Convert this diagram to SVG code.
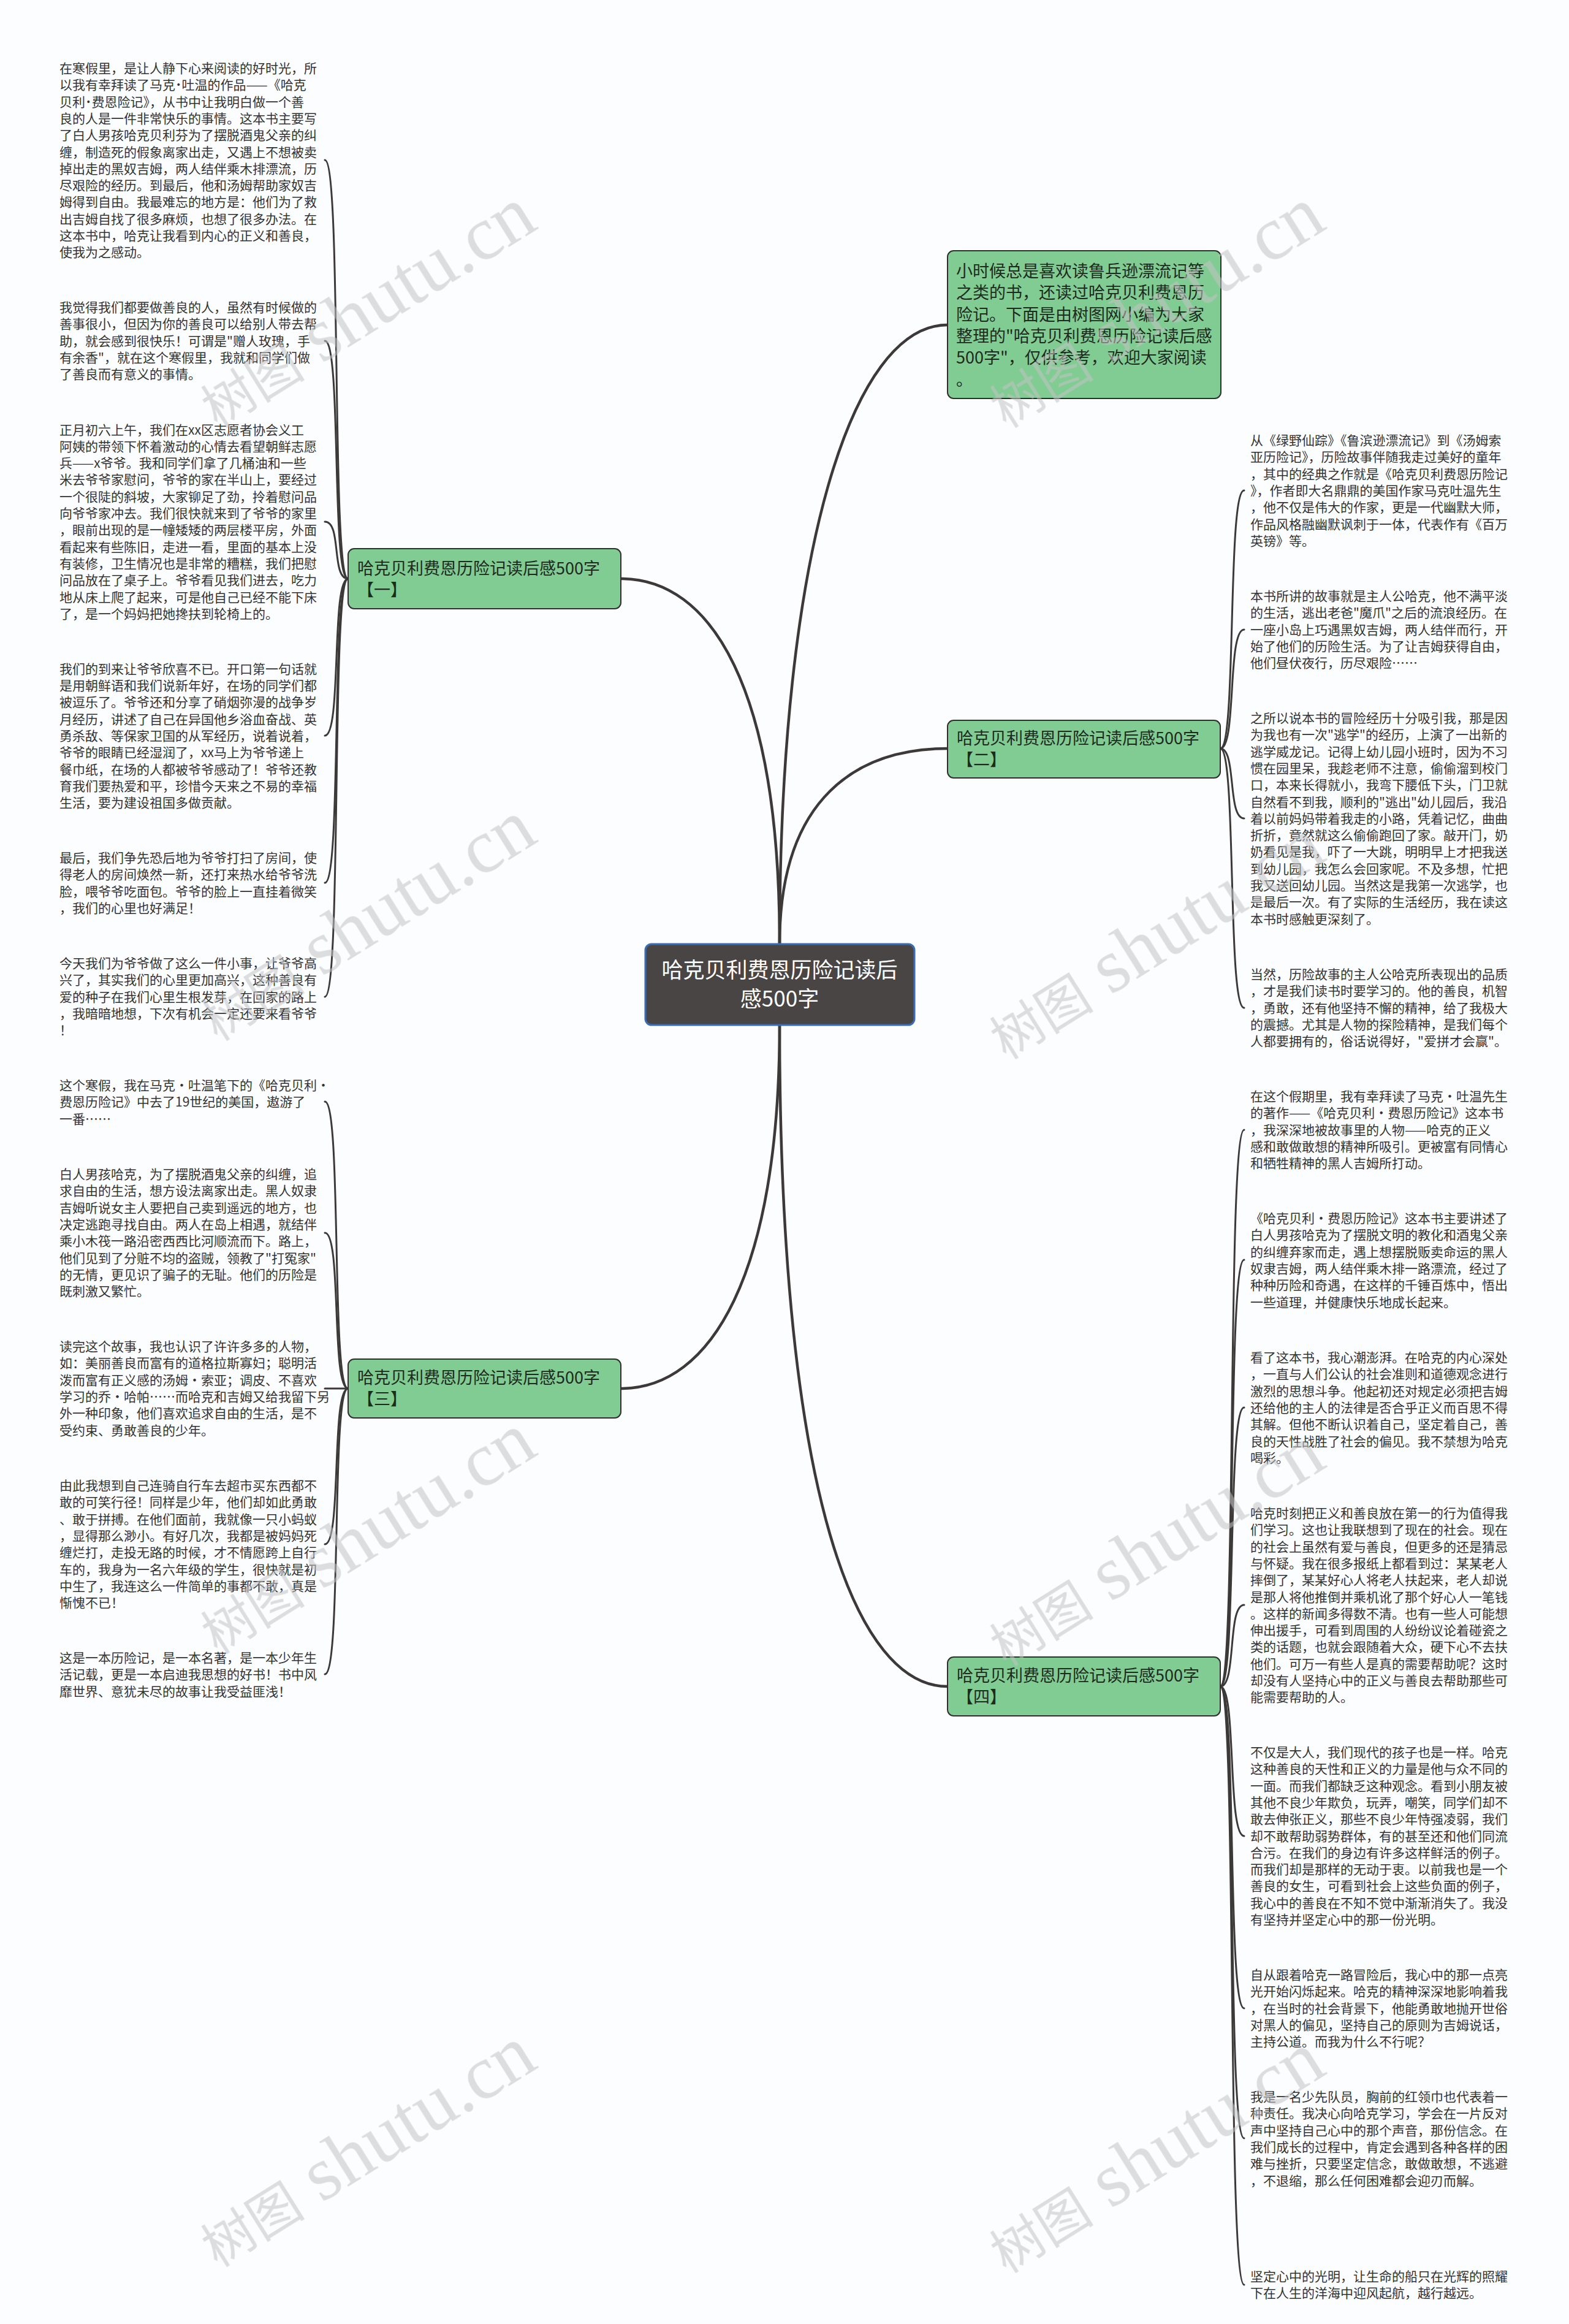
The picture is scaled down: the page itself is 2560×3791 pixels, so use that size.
<svg xmlns="http://www.w3.org/2000/svg" width="2560" height="3791" viewBox="0 0 2560 3791">
<style>
.leaf{font-family:"Noto Sans CJK SC","Noto Sans",sans-serif;font-size:21px;fill:#333333}
.br{font-family:"Noto Sans CJK SC","Noto Sans",sans-serif;font-size:27px;fill:#1f2a1f}
.ctr{font-family:"Noto Sans CJK SC","Noto Sans",sans-serif;font-size:35px;fill:#ffffff;text-anchor:middle}
.box{fill:#80cc92;stroke:#2f2f2f;stroke-width:2}
.conn{fill:none;stroke:#3d3939;stroke-width:3;stroke-linecap:round}
.main{stroke-width:4.5}
.wm{fill:#c4c4c4;opacity:0.55}
.wmc{font-family:"Noto Sans CJK SC",sans-serif;font-size:85px}
.wml{font-family:"Liberation Serif",serif;font-size:125px}
</style>
<rect x="0" y="0" width="2560" height="3791" fill="#fbfdfe"/>
<g id="connectors">
<path class="conn main" d="M1272,1540 C1272,1120 1160,944 1013,944"/>
<path class="conn main" d="M1272,1540 C1272,900 1390,530 1546,530"/>
<path class="conn main" d="M1272,1540 C1272,1300 1400,1221 1546,1221"/>
<path class="conn main" d="M1272,1672 C1272,2080 1160,2265 1013,2265"/>
<path class="conn main" d="M1272,1672 C1272,2450 1400,2751 1546,2751"/>
<path class="conn" d="M568,944 C540,944 558,261 530,261"/>
<path class="conn" d="M568,944 C540,944 558,556 530,556"/>
<path class="conn" d="M568,944 C540,944 558,851 530,851"/>
<path class="conn" d="M568,944 C540,944 558,1200 530,1200"/>
<path class="conn" d="M568,944 C540,944 558,1440 530,1440"/>
<path class="conn" d="M568,944 C540,944 558,1626 530,1626"/>
<path class="conn" d="M568,2265 C540,2265 558,1797 530,1797"/>
<path class="conn" d="M568,2265 C540,2265 558,2011 530,2011"/>
<path class="conn" d="M568,2265 C540,2265 558,2265 530,2265"/>
<path class="conn" d="M568,2265 C540,2265 558,2519 530,2519"/>
<path class="conn" d="M568,2265 C540,2265 558,2731 530,2731"/>
<path class="conn" d="M1991,1221 C2018,1221 2002,800 2030,800"/>
<path class="conn" d="M1991,1221 C2018,1221 2002,1027 2030,1027"/>
<path class="conn" d="M1991,1221 C2018,1221 2002,1335 2030,1335"/>
<path class="conn" d="M1991,1221 C2018,1221 2002,1644 2030,1644"/>
<path class="conn" d="M1991,2751 C2018,2751 2002,1843 2030,1843"/>
<path class="conn" d="M1991,2751 C2018,2751 2002,2055 2030,2055"/>
<path class="conn" d="M1991,2751 C2018,2751 2002,2296 2030,2296"/>
<path class="conn" d="M1991,2751 C2018,2751 2002,2618 2030,2618"/>
<path class="conn" d="M1991,2751 C2018,2751 2002,2995 2030,2995"/>
<path class="conn" d="M1991,2751 C2018,2751 2002,3276 2030,3276"/>
<path class="conn" d="M1991,2751 C2018,2751 2002,3488 2030,3488"/>
<path class="conn" d="M1991,2751 C2018,2751 2002,3727 2030,3727"/>
</g>
<g id="center">
<rect x="1053" y="1540" width="439" height="132" rx="10" fill="#4a4545" stroke="#3b6db3" stroke-width="3"/>
<text class="ctr" x="1272" y="1595">哈克贝利费恩历险记读后</text>
<text class="ctr" x="1272" y="1642">感500字</text>
</g>
<g id="intro">
<rect class="box" x="1546" y="409" width="446" height="241" rx="10"/>
<text class="br" x="1560" y="452"><tspan x="1560">小时候总是喜欢读鲁兵逊漂流记等</tspan><tspan x="1560" dy="35.3">之类的书，还读过哈克贝利费恩历</tspan><tspan x="1560" dy="35.3">险记。下面是由树图网小编为大家</tspan><tspan x="1560" dy="35.3">整理的"哈克贝利费恩历险记读后感</tspan><tspan x="1560" dy="35.3">500字"，仅供参考，欢迎大家阅读</tspan><tspan x="1560" dy="35.3">。</tspan></text>
</g>
<g id="branch1">
<rect class="box" x="568" y="895" width="445" height="98" rx="10"/>
<text class="br" x="583" y="937">哈克贝利费恩历险记读后感500字</text>
<text class="br" x="583" y="972">【一】</text>
</g>
<g id="branch2">
<rect class="box" x="1546" y="1175" width="445" height="94" rx="10"/>
<text class="br" x="1561" y="1214">哈克贝利费恩历险记读后感500字</text>
<text class="br" x="1561" y="1249">【二】</text>
</g>
<g id="branch3">
<rect class="box" x="568" y="2217" width="445" height="96" rx="10"/>
<text class="br" x="583" y="2257">哈克贝利费恩历险记读后感500字</text>
<text class="br" x="583" y="2292">【三】</text>
</g>
<g id="branch4">
<rect class="box" x="1546" y="2703" width="445" height="96" rx="10"/>
<text class="br" x="1561" y="2743">哈克贝利费恩历险记读后感500字</text>
<text class="br" x="1561" y="2778">【四】</text>
</g>
<g id="leaf-l1"><text class="leaf" x="97" y="119"><tspan x="97">在寒假里，是让人静下心来阅读的好时光，所</tspan><tspan x="97" dy="27.3">以我有幸拜读了马克˙吐温的作品——《哈克</tspan><tspan x="97" dy="27.3">贝利˙费恩险记》，从书中让我明白做一个善</tspan><tspan x="97" dy="27.3">良的人是一件非常快乐的事情。这本书主要写</tspan><tspan x="97" dy="27.3">了白人男孩哈克贝利芬为了摆脱酒鬼父亲的纠</tspan><tspan x="97" dy="27.3">缠，制造死的假象离家出走，又遇上不想被卖</tspan><tspan x="97" dy="27.3">掉出走的黑奴吉姆，两人结伴乘木排漂流，历</tspan><tspan x="97" dy="27.3">尽艰险的经历。到最后，他和汤姆帮助家奴吉</tspan><tspan x="97" dy="27.3">姆得到自由。我最难忘的地方是：他们为了救</tspan><tspan x="97" dy="27.3">出吉姆自找了很多麻烦，也想了很多办法。在</tspan><tspan x="97" dy="27.3">这本书中，哈克让我看到内心的正义和善良，</tspan><tspan x="97" dy="27.3">使我为之感动。</tspan></text></g>
<g id="leaf-l2"><text class="leaf" x="97" y="509"><tspan x="97">我觉得我们都要做善良的人，虽然有时候做的</tspan><tspan x="97" dy="27.3">善事很小，但因为你的善良可以给别人带去帮</tspan><tspan x="97" dy="27.3">助，就会感到很快乐！可谓是"赠人玫瑰，手</tspan><tspan x="97" dy="27.3">有余香"，就在这个寒假里，我就和同学们做</tspan><tspan x="97" dy="27.3">了善良而有意义的事情。</tspan></text></g>
<g id="leaf-l3"><text class="leaf" x="97" y="708.5"><tspan x="97">正月初六上午，我们在xx区志愿者协会义工</tspan><tspan x="97" dy="27.3">阿姨的带领下怀着激动的心情去看望朝鲜志愿</tspan><tspan x="97" dy="27.3">兵——x爷爷。我和同学们拿了几桶油和一些</tspan><tspan x="97" dy="27.3">米去爷爷家慰问，爷爷的家在半山上，要经过</tspan><tspan x="97" dy="27.3">一个很陡的斜坡，大家铆足了劲，拎着慰问品</tspan><tspan x="97" dy="27.3">向爷爷家冲去。我们很快就来到了爷爷的家里</tspan><tspan x="97" dy="27.3">，眼前出现的是一幢矮矮的两层楼平房，外面</tspan><tspan x="97" dy="27.3">看起来有些陈旧，走进一看，里面的基本上没</tspan><tspan x="97" dy="27.3">有装修，卫生情况也是非常的糟糕，我们把慰</tspan><tspan x="97" dy="27.3">问品放在了桌子上。爷爷看见我们进去，吃力</tspan><tspan x="97" dy="27.3">地从床上爬了起来，可是他自己已经不能下床</tspan><tspan x="97" dy="27.3">了，是一个妈妈把她搀扶到轮椅上的。</tspan></text></g>
<g id="leaf-l4"><text class="leaf" x="97" y="1098.8"><tspan x="97">我们的到来让爷爷欣喜不已。开口第一句话就</tspan><tspan x="97" dy="27.3">是用朝鲜语和我们说新年好，在场的同学们都</tspan><tspan x="97" dy="27.3">被逗乐了。爷爷还和分享了硝烟弥漫的战争岁</tspan><tspan x="97" dy="27.3">月经历，讲述了自己在异国他乡浴血奋战、英</tspan><tspan x="97" dy="27.3">勇杀敌、等保家卫国的从军经历，说着说着，</tspan><tspan x="97" dy="27.3">爷爷的眼睛已经湿润了，xx马上为爷爷递上</tspan><tspan x="97" dy="27.3">餐巾纸，在场的人都被爷爷感动了！爷爷还教</tspan><tspan x="97" dy="27.3">育我们要热爱和平，珍惜今天来之不易的幸福</tspan><tspan x="97" dy="27.3">生活，要为建设祖国多做贡献。</tspan></text></g>
<g id="leaf-l5"><text class="leaf" x="97" y="1407"><tspan x="97">最后，我们争先恐后地为爷爷打扫了房间，使</tspan><tspan x="97" dy="27.3">得老人的房间焕然一新，还打来热水给爷爷洗</tspan><tspan x="97" dy="27.3">脸，喂爷爷吃面包。爷爷的脸上一直挂着微笑</tspan><tspan x="97" dy="27.3">，我们的心里也好满足！</tspan></text></g>
<g id="leaf-l6"><text class="leaf" x="97" y="1579"><tspan x="97">今天我们为爷爷做了这么一件小事，让爷爷高</tspan><tspan x="97" dy="27.3">兴了，其实我们的心里更加高兴，这种善良有</tspan><tspan x="97" dy="27.3">爱的种子在我们心里生根发芽，在回家的路上</tspan><tspan x="97" dy="27.3">，我暗暗地想，下次有机会一定还要来看爷爷</tspan><tspan x="97" dy="27.3">！</tspan></text></g>
<g id="leaf-l7"><text class="leaf" x="97" y="1778"><tspan x="97">这个寒假，我在马克·吐温笔下的《哈克贝利·</tspan><tspan x="97" dy="27.3">费恩历险记》中去了19世纪的美国，遨游了</tspan><tspan x="97" dy="27.3">一番……</tspan></text></g>
<g id="leaf-l8"><text class="leaf" x="97" y="1923"><tspan x="97">白人男孩哈克，为了摆脱酒鬼父亲的纠缠，追</tspan><tspan x="97" dy="27.3">求自由的生活，想方设法离家出走。黑人奴隶</tspan><tspan x="97" dy="27.3">吉姆听说女主人要把自己卖到遥远的地方，也</tspan><tspan x="97" dy="27.3">决定逃跑寻找自由。两人在岛上相遇，就结伴</tspan><tspan x="97" dy="27.3">乘小木筏一路沿密西西比河顺流而下。路上，</tspan><tspan x="97" dy="27.3">他们见到了分赃不均的盗贼，领教了"打冤家"</tspan><tspan x="97" dy="27.3">的无情，更见识了骗子的无耻。他们的历险是</tspan><tspan x="97" dy="27.3">既刺激又繁忙。</tspan></text></g>
<g id="leaf-l9"><text class="leaf" x="97" y="2204"><tspan x="97">读完这个故事，我也认识了许许多多的人物，</tspan><tspan x="97" dy="27.3">如：美丽善良而富有的道格拉斯寡妇；聪明活</tspan><tspan x="97" dy="27.3">泼而富有正义感的汤姆·索亚；调皮、不喜欢</tspan><tspan x="97" dy="27.3">学习的乔·哈帕……而哈克和吉姆又给我留下另</tspan><tspan x="97" dy="27.3">外一种印象，他们喜欢追求自由的生活，是不</tspan><tspan x="97" dy="27.3">受约束、勇敢善良的少年。</tspan></text></g>
<g id="leaf-l10"><text class="leaf" x="97" y="2431"><tspan x="97">由此我想到自己连骑自行车去超市买东西都不</tspan><tspan x="97" dy="27.3">敢的可笑行径！同样是少年，他们却如此勇敢</tspan><tspan x="97" dy="27.3">、敢于拼搏。在他们面前，我就像一只小蚂蚁</tspan><tspan x="97" dy="27.3">，显得那么渺小。有好几次，我都是被妈妈死</tspan><tspan x="97" dy="27.3">缠烂打，走投无路的时候，才不情愿跨上自行</tspan><tspan x="97" dy="27.3">车的，我身为一名六年级的学生，很快就是初</tspan><tspan x="97" dy="27.3">中生了，我连这么一件简单的事都不敢，真是</tspan><tspan x="97" dy="27.3">惭愧不已！</tspan></text></g>
<g id="leaf-l11"><text class="leaf" x="97" y="2712"><tspan x="97">这是一本历险记，是一本名著，是一本少年生</tspan><tspan x="97" dy="27.3">活记载，更是一本启迪我思想的好书！书中风</tspan><tspan x="97" dy="27.3">靡世界、意犹未尽的故事让我受益匪浅！</tspan></text></g>
<g id="leaf-r1"><text class="leaf" x="2040" y="726"><tspan x="2040">从《绿野仙踪》《鲁滨逊漂流记》到《汤姆索</tspan><tspan x="2040" dy="27.3">亚历险记》，历险故事伴随我走过美好的童年</tspan><tspan x="2040" dy="27.3">，其中的经典之作就是《哈克贝利费恩历险记</tspan><tspan x="2040" dy="27.3">》，作者即大名鼎鼎的美国作家马克吐温先生</tspan><tspan x="2040" dy="27.3">，他不仅是伟大的作家，更是一代幽默大师，</tspan><tspan x="2040" dy="27.3">作品风格融幽默讽刺于一体，代表作有《百万</tspan><tspan x="2040" dy="27.3">英镑》等。</tspan></text></g>
<g id="leaf-r2"><text class="leaf" x="2040" y="980"><tspan x="2040">本书所讲的故事就是主人公哈克，他不满平淡</tspan><tspan x="2040" dy="27.3">的生活，逃出老爸"魔爪"之后的流浪经历。在</tspan><tspan x="2040" dy="27.3">一座小岛上巧遇黑奴吉姆，两人结伴而行，开</tspan><tspan x="2040" dy="27.3">始了他们的历险生活。为了让吉姆获得自由，</tspan><tspan x="2040" dy="27.3">他们昼伏夜行，历尽艰险……</tspan></text></g>
<g id="leaf-r3"><text class="leaf" x="2040" y="1179"><tspan x="2040">之所以说本书的冒险经历十分吸引我，那是因</tspan><tspan x="2040" dy="27.3">为我也有一次"逃学"的经历，上演了一出新的</tspan><tspan x="2040" dy="27.3">逃学威龙记。记得上幼儿园小班时，因为不习</tspan><tspan x="2040" dy="27.3">惯在园里呆，我趁老师不注意，偷偷溜到校门</tspan><tspan x="2040" dy="27.3">口，本来长得就小，我弯下腰低下头，门卫就</tspan><tspan x="2040" dy="27.3">自然看不到我，顺利的"逃出"幼儿园后，我沿</tspan><tspan x="2040" dy="27.3">着以前妈妈带着我走的小路，凭着记忆，曲曲</tspan><tspan x="2040" dy="27.3">折折，竟然就这么偷偷跑回了家。敲开门，奶</tspan><tspan x="2040" dy="27.3">奶看见是我，吓了一大跳，明明早上才把我送</tspan><tspan x="2040" dy="27.3">到幼儿园，我怎么会回家呢。不及多想，忙把</tspan><tspan x="2040" dy="27.3">我又送回幼儿园。当然这是我第一次逃学，也</tspan><tspan x="2040" dy="27.3">是最后一次。有了实际的生活经历，我在读这</tspan><tspan x="2040" dy="27.3">本书时感触更深刻了。</tspan></text></g>
<g id="leaf-r4"><text class="leaf" x="2040" y="1597"><tspan x="2040">当然，历险故事的主人公哈克所表现出的品质</tspan><tspan x="2040" dy="27.3">，才是我们读书时要学习的。他的善良，机智</tspan><tspan x="2040" dy="27.3">，勇敢，还有他坚持不懈的精神，给了我极大</tspan><tspan x="2040" dy="27.3">的震撼。尤其是人物的探险精神，是我们每个</tspan><tspan x="2040" dy="27.3">人都要拥有的，俗话说得好，"爱拼才会赢"。</tspan></text></g>
<g id="leaf-r5"><text class="leaf" x="2040" y="1796"><tspan x="2040">在这个假期里，我有幸拜读了马克·吐温先生</tspan><tspan x="2040" dy="27.3">的著作——《哈克贝利·费恩历险记》这本书</tspan><tspan x="2040" dy="27.3">，我深深地被故事里的人物——哈克的正义</tspan><tspan x="2040" dy="27.3">感和敢做敢想的精神所吸引。更被富有同情心</tspan><tspan x="2040" dy="27.3">和牺牲精神的黑人吉姆所打动。</tspan></text></g>
<g id="leaf-r6"><text class="leaf" x="2040" y="1995"><tspan x="2040">《哈克贝利·费恩历险记》这本书主要讲述了</tspan><tspan x="2040" dy="27.3">白人男孩哈克为了摆脱文明的教化和酒鬼父亲</tspan><tspan x="2040" dy="27.3">的纠缠弃家而走，遇上想摆脱贩卖命运的黑人</tspan><tspan x="2040" dy="27.3">奴隶吉姆，两人结伴乘木排一路漂流，经过了</tspan><tspan x="2040" dy="27.3">种种历险和奇遇，在这样的千锤百炼中，悟出</tspan><tspan x="2040" dy="27.3">一些道理，并健康快乐地成长起来。</tspan></text></g>
<g id="leaf-r7"><text class="leaf" x="2040" y="2222"><tspan x="2040">看了这本书，我心潮澎湃。在哈克的内心深处</tspan><tspan x="2040" dy="27.3">，一直与人们公认的社会准则和道德观念进行</tspan><tspan x="2040" dy="27.3">激烈的思想斗争。他起初还对规定必须把吉姆</tspan><tspan x="2040" dy="27.3">还给他的主人的法律是否合乎正义而百思不得</tspan><tspan x="2040" dy="27.3">其解。但他不断认识着自己，坚定着自己，善</tspan><tspan x="2040" dy="27.3">良的天性战胜了社会的偏见。我不禁想为哈克</tspan><tspan x="2040" dy="27.3">喝彩。</tspan></text></g>
<g id="leaf-r8"><text class="leaf" x="2040" y="2476"><tspan x="2040">哈克时刻把正义和善良放在第一的行为值得我</tspan><tspan x="2040" dy="27.3">们学习。这也让我联想到了现在的社会。现在</tspan><tspan x="2040" dy="27.3">的社会上虽然有爱与善良，但更多的还是猜忌</tspan><tspan x="2040" dy="27.3">与怀疑。我在很多报纸上都看到过：某某老人</tspan><tspan x="2040" dy="27.3">摔倒了，某某好心人将老人扶起来，老人却说</tspan><tspan x="2040" dy="27.3">是那人将他推倒并乘机讹了那个好心人一笔钱</tspan><tspan x="2040" dy="27.3">。这样的新闻多得数不清。也有一些人可能想</tspan><tspan x="2040" dy="27.3">伸出援手，可看到周围的人纷纷议论着碰瓷之</tspan><tspan x="2040" dy="27.3">类的话题，也就会跟随着大众，硬下心不去扶</tspan><tspan x="2040" dy="27.3">他们。可万一有些人是真的需要帮助呢？这时</tspan><tspan x="2040" dy="27.3">却没有人坚持心中的正义与善良去帮助那些可</tspan><tspan x="2040" dy="27.3">能需要帮助的人。</tspan></text></g>
<g id="leaf-r9"><text class="leaf" x="2040" y="2866"><tspan x="2040">不仅是大人，我们现代的孩子也是一样。哈克</tspan><tspan x="2040" dy="27.3">这种善良的天性和正义的力量是他与众不同的</tspan><tspan x="2040" dy="27.3">一面。而我们都缺乏这种观念。看到小朋友被</tspan><tspan x="2040" dy="27.3">其他不良少年欺负，玩弄，嘲笑，同学们却不</tspan><tspan x="2040" dy="27.3">敢去伸张正义，那些不良少年恃强凌弱，我们</tspan><tspan x="2040" dy="27.3">却不敢帮助弱势群体，有的甚至还和他们同流</tspan><tspan x="2040" dy="27.3">合污。在我们的身边有许多这样鲜活的例子。</tspan><tspan x="2040" dy="27.3">而我们却是那样的无动于衷。以前我也是一个</tspan><tspan x="2040" dy="27.3">善良的女生，可看到社会上这些负面的例子，</tspan><tspan x="2040" dy="27.3">我心中的善良在不知不觉中渐渐消失了。我没</tspan><tspan x="2040" dy="27.3">有坚持并坚定心中的那一份光明。</tspan></text></g>
<g id="leaf-r10"><text class="leaf" x="2040" y="3229"><tspan x="2040">自从跟着哈克一路冒险后，我心中的那一点亮</tspan><tspan x="2040" dy="27.3">光开始闪烁起来。哈克的精神深深地影响着我</tspan><tspan x="2040" dy="27.3">，在当时的社会背景下，他能勇敢地抛开世俗</tspan><tspan x="2040" dy="27.3">对黑人的偏见，坚持自己的原则为吉姆说话，</tspan><tspan x="2040" dy="27.3">主持公道。而我为什么不行呢？</tspan></text></g>
<g id="leaf-r11"><text class="leaf" x="2040" y="3428"><tspan x="2040">我是一名少先队员，胸前的红领巾也代表着一</tspan><tspan x="2040" dy="27.3">种责任。我决心向哈克学习，学会在一片反对</tspan><tspan x="2040" dy="27.3">声中坚持自己心中的那个声音，那份信念。在</tspan><tspan x="2040" dy="27.3">我们成长的过程中，肯定会遇到各种各样的困</tspan><tspan x="2040" dy="27.3">难与挫折，只要坚定信念，敢做敢想，不逃避</tspan><tspan x="2040" dy="27.3">，不退缩，那么任何困难都会迎刃而解。</tspan></text></g>
<g id="leaf-r12"><text class="leaf" x="2040" y="3721"><tspan x="2040">坚定心中的光明，让生命的船只在光辉的照耀</tspan><tspan x="2040" dy="27.3">下在人生的洋海中迎风起航，越行越远。</tspan></text></g>
<g id="watermarks" class="wm">
<text transform="translate(355,700) rotate(-32)"><tspan class="wmc">树图</tspan><tspan class="wml" dx="30">shutu.cn</tspan></text>
<text transform="translate(1642,700) rotate(-32)"><tspan class="wmc">树图</tspan><tspan class="wml" dx="30">shutu.cn</tspan></text>
<text transform="translate(355,1700) rotate(-32)"><tspan class="wmc">树图</tspan><tspan class="wml" dx="30">shutu.cn</tspan></text>
<text transform="translate(1642,1730) rotate(-32)"><tspan class="wmc">树图</tspan><tspan class="wml" dx="30">shutu.cn</tspan></text>
<text transform="translate(355,2700) rotate(-32)"><tspan class="wmc">树图</tspan><tspan class="wml" dx="30">shutu.cn</tspan></text>
<text transform="translate(1642,2720) rotate(-32)"><tspan class="wmc">树图</tspan><tspan class="wml" dx="30">shutu.cn</tspan></text>
<text transform="translate(355,3700) rotate(-32)"><tspan class="wmc">树图</tspan><tspan class="wml" dx="30">shutu.cn</tspan></text>
<text transform="translate(1642,3710) rotate(-32)"><tspan class="wmc">树图</tspan><tspan class="wml" dx="30">shutu.cn</tspan></text>
</g>
</svg>
